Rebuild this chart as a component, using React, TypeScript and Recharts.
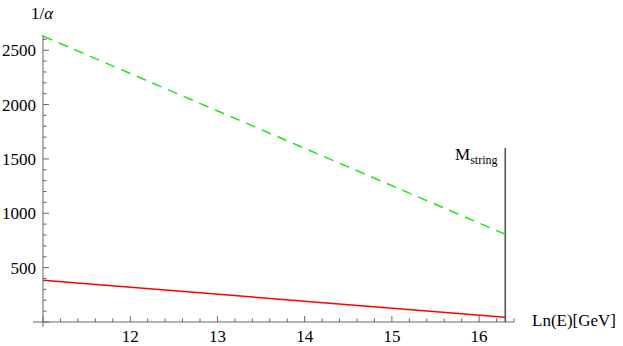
import { Line, LineChart, ReferenceLine, XAxis, YAxis } from "recharts";

// energy scale ln(E) in GeV, endpoints of both curves
const lnE = [11, 16.3];
const invAlphaGreen = [2630, 807];
const invAlphaRed = [383, 44];

const xTicks = Array.from({ length: 28 }, (_, i) => +(11 + i * 0.2).toFixed(1));
const yTicks = Array.from({ length: 27 }, (_, i) => i * 100);

const mString = 16.3;
const mStringTop = 1600;

const data = lnE.map((x, i) => ({ x, green: invAlphaGreen[i], red: invAlphaRed[i] }));

const AXIS = "#666";
const FONT = "'Liberation Serif', 'DejaVu Serif', serif";
const labelStyle = { fontFamily: FONT, fontSize: 17 };

const isMajor = (v: number, step: number) => Math.abs(v / step - Math.round(v / step)) < 1e-6;

const XTick = (props: any) => {
  const { x, y, payload } = props;
  const v = payload.value as number;
  const major = isMajor(v, 1);
  return (
    <g>
      <line x1={x} x2={x} y1={y} y2={y - (major ? 6 : 3.5)} stroke={AXIS} strokeWidth={1} />
      {major && v > 11 && (
        <text x={x} y={y + 20} textAnchor="middle" style={labelStyle} fill="#000">
          {v}
        </text>
      )}
    </g>
  );
};

const YTick = (props: any) => {
  const { x, y, payload } = props;
  const v = payload.value as number;
  const major = isMajor(v, 500);
  return (
    <g>
      <line x1={x} x2={x + (major ? 6 : 3.5)} y1={y} y2={y} stroke={AXIS} strokeWidth={1} />
      {major && v > 0 && (
        <text x={x - 7} y={y + 6} textAnchor="end" style={labelStyle} fill="#000">
          {v}
        </text>
      )}
    </g>
  );
};

export default function App() {
  return (
    <div style={{ position: "absolute", left: 0, top: 0, width: 623, height: 346, background: "#fff" }}>
      <LineChart width={623} height={346} data={data} margin={{ top: 35, right: 109, left: 0, bottom: 0 }}>
        <XAxis
          dataKey="x"
          type="number"
          domain={[11, 16.4]}
          ticks={xTicks}
          interval={0}
          height={24}
          tickSize={0}
          tickMargin={0}
          tickLine={false}
          tick={XTick}
          axisLine={{ stroke: AXIS }}
        />
        <YAxis
          type="number"
          domain={[0, 2640]}
          ticks={yTicks}
          interval={0}
          width={43}
          tickSize={0}
          tickMargin={0}
          tickLine={false}
          tick={YTick}
          axisLine={{ stroke: AXIS }}
        />
        <ReferenceLine
          segment={[{ x: 10.885, y: 0 }, { x: 11, y: 0 }]}
          stroke={AXIS}
          ifOverflow="visible"
        />
        <ReferenceLine
          segment={[{ x: 11, y: -45 }, { x: 11, y: 0 }]}
          stroke={AXIS}
          ifOverflow="visible"
        />
        <ReferenceLine
          segment={[{ x: mString, y: 0 }, { x: mString, y: mStringTop }]}
          stroke="#555"
          strokeWidth={1.6}
        />
        <Line
          dataKey="green"
          stroke="#1fe51f"
          strokeWidth={1.5}
          strokeDasharray="10 7"
          dot={false}
          isAnimationActive={false}
        />
        <Line dataKey="red" stroke="#ff0000" strokeWidth={1.5} dot={false} isAnimationActive={false} />
      </LineChart>
      <div style={{ position: "absolute", left: 31, top: 4, ...labelStyle }}>
        1/<i>α</i>
      </div>
      <div style={{ position: "absolute", left: 532, top: 311, whiteSpace: "nowrap", ...labelStyle }}>
        Ln(E)[GeV]
      </div>
      <div style={{ position: "absolute", left: 455, top: 145, whiteSpace: "nowrap", ...labelStyle }}>
        M<sub style={{ fontSize: 12 }}>string</sub>
      </div>
    </div>
  );
}
